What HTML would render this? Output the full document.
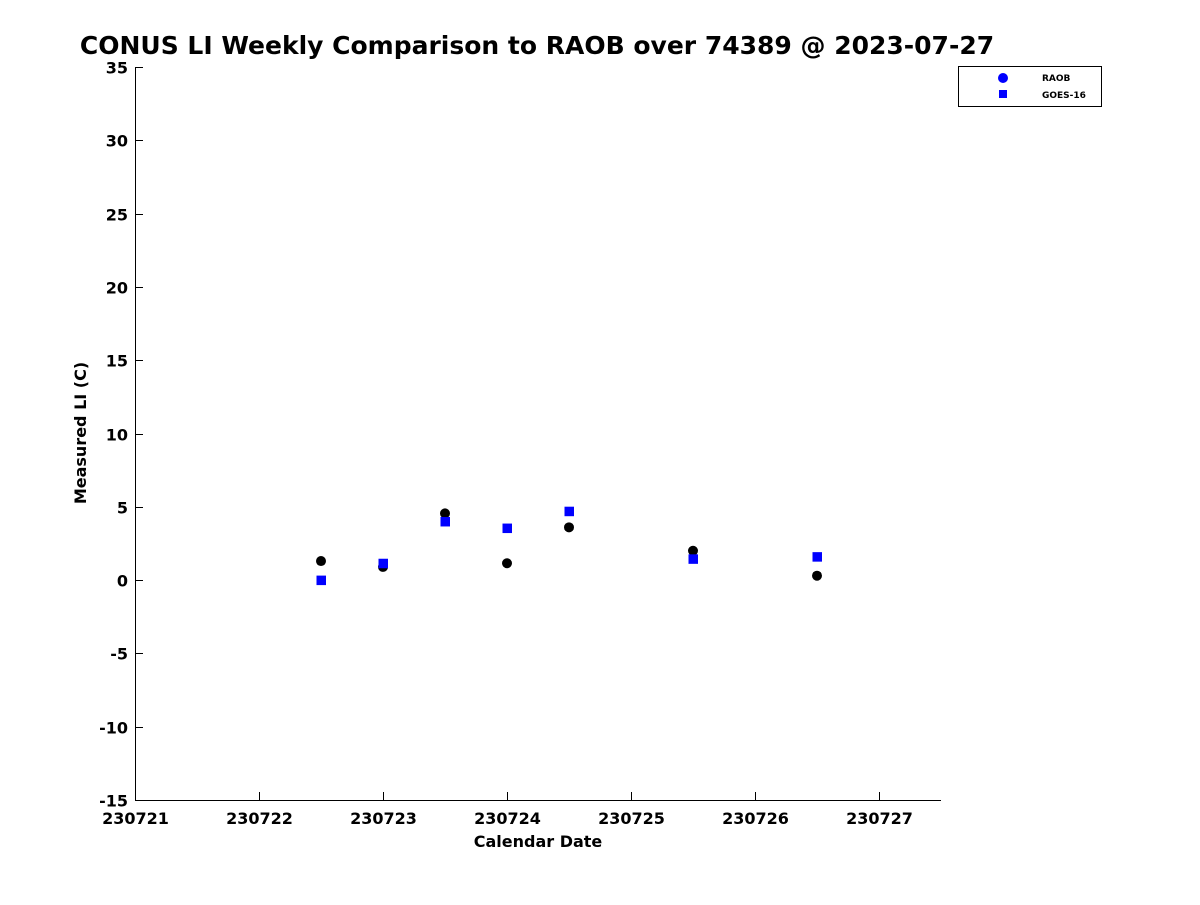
<!DOCTYPE html>
<html><head><meta charset="utf-8"><style>
body{margin:0;background:#fff;font-family:"Liberation Sans","DejaVu Sans",sans-serif}
text{font-family:"DejaVu Sans","Liberation Sans",sans-serif;font-weight:bold}
</style></head><body>
<svg id="chart" width="1200" height="900" xmlns="http://www.w3.org/2000/svg">
<rect width="1200" height="900" fill="#fff"/>
<text x="537" y="54" font-size="25" text-anchor="middle" fill="#000">CONUS LI Weekly Comparison to RAOB over 74389 @ 2023-07-27</text>
<g id="axes"></g>
<g id="marks"></g>
<text x="538" y="847" font-size="16" text-anchor="middle">Calendar Date</text>
<text transform="translate(86,433) rotate(-90)" font-size="16" text-anchor="middle">Measured LI (C)</text>
<g>
<rect x="958.5" y="66.5" width="143" height="40" fill="#fff" stroke="#000"/>
<circle cx="1003" cy="78" r="5" fill="#0000ff"/>
<text x="1042" y="81" font-size="9">RAOB</text>
<rect x="999" y="90" width="8" height="8" fill="#0000ff"/>
<text x="1042" y="98" font-size="9">GOES-16</text>
</g>
</svg>
<script>
const xTicks=[230721,230722,230723,230724,230725,230726,230727];
const yTicks=[35,30,25,20,15,10,5,0,-5,-10,-15];
const dates=[230722.5,230723,230723.5,230724,230724.5,230725.5,230726.5];
const raob=[1.3,0.9,4.55,1.15,3.6,2.0,0.3];
const goes=[0.0,1.15,4.0,3.55,4.7,1.45,1.6];
const NS='http://www.w3.org/2000/svg';
const X0=135,X1=941,Y0=67,Y1=800;
const xMin=230721,xMax=230727.5,yMin=-15,yMax=35;
const sx=v=>X0+(v-xMin)/(xMax-xMin)*(X1-X0);
const sy=v=>Y1-(v-yMin)/(yMax-yMin)*(Y1-Y0);
function mk(t,a){const e=document.createElementNS(NS,t);for(const k in a)e.setAttribute(k,a[k]);return e;}
const ax=document.getElementById('axes'),mg=document.getElementById('marks');
const yl=mk('line',{x1:X0+.5,y1:Y0,x2:X0+.5,y2:Y1,stroke:'#000'});


ax.appendChild(yl);
const xl=mk('line',{x1:X0,y1:Y1+.5,x2:X1,y2:Y1+.5,stroke:'#000'});


ax.appendChild(xl);
xTicks.forEach(t=>{const x=Math.round(sx(t))+.5;
const l=mk('line',{x1:x,y1:Y1,x2:x,y2:Y1-8,stroke:'#000'});


ax.appendChild(l);
const tx=mk('text',{x:x,y:Y1+24,'font-size':16,'text-anchor':'middle'});tx.textContent=t;


ax.appendChild(tx);});
yTicks.forEach(t=>{const y=Math.round(sy(t))+.5;
const l=mk('line',{x1:X0,y1:y,x2:X0+8,y2:y,stroke:'#000'});


ax.appendChild(l);
const tx=mk('text',{x:X0-7,y:y+6,'font-size':16,'text-anchor':'end'});tx.textContent=t;


ax.appendChild(tx);});
dates.forEach((d,i)=>{
const c=mk('circle',{cx:sx(d),cy:sy(raob[i]),r:5,fill:'#000'});


mg.appendChild(c);});
dates.forEach((d,i)=>{
const r=mk('rect',{x:sx(d)-4.5,y:sy(goes[i])-4.5,width:9.5,height:9.5,fill:'#0000ff'});


mg.appendChild(r);});
</script>
</body></html>
